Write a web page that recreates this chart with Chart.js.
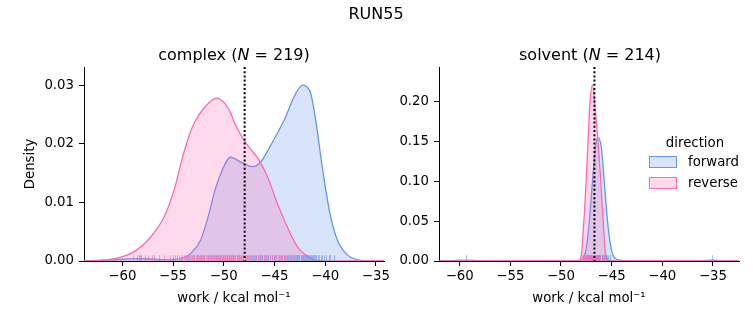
<!DOCTYPE html>
<html>
<head>
<meta charset="utf-8">
<script src="https://cdn.jsdelivr.net/npm/chart.js@4.4.0/dist/chart.umd.min.js"></script>
<style>
  body { margin: 0; background: #fff; font-family: "DejaVu Sans", sans-serif; }
  #fig { position: relative; width: 753px; height: 325px; overflow: hidden; background: #fff; }
  canvas { position: absolute; top: 0; }
  .txt { position: absolute; white-space: nowrap; color: #000; transform: translate(-50%, -50%); }
  .lbl { position: absolute; white-space: nowrap; color: #000; transform: translateY(-50%); font-size: 13.3px; }
  .patch { position: absolute; width: 26px; height: 10px; }
</style>
</head>
<body>
<div id="fig">
  <canvas id="complexChart" width="395" height="325" style="left:0px"></canvas>
  <canvas id="solventChart" width="358" height="325" style="left:395px"></canvas>

  <div class="txt" style="left:376px; top:13px; font-size:16px;">RUN55</div>
  <div class="txt" style="left:234px; top:54px; font-size:16px;">complex (<i>N</i> = 219)</div>
  <div class="txt" style="left:590px; top:54px; font-size:16px;">solvent (<i>N</i> = 214)</div>

  <!-- legend -->
  <div class="txt" style="left:695px; top:142px; font-size:13.3px;">direction</div>
  <div class="patch" style="left:649px; top:156px; background:rgba(100,149,237,0.25); border:1px solid #6495ED;"></div>
  <div class="lbl" style="left:688px; top:161px;">forward</div>
  <div class="patch" style="left:649px; top:177px; background:rgba(255,105,180,0.25); border:1px solid #FF69B4;"></div>
  <div class="lbl" style="left:688px; top:182px;">reverse</div>
</div>

<script>
// colours
var fwdLine = '#6495ED', fwdFill = 'rgba(100,149,237,0.25)', fwdRug = 'rgba(100,149,237,0.6)';
var revLine = '#FF69B4', revFill = 'rgba(255,105,180,0.25)', revRug = 'rgba(255,105,180,0.6)';

// complex leg, density curves
var complexFwdX = [-63.8, -62, -60, -58.5, -57, -55.5, -54.2, -53.25, -52.27, -51.45, -50.96, -50.3, -49.31, -48.98, -48.0, -47.18, -46.35, -45.36, -44.05, -43.07, -42.6, -42.18, -41.8, -41.42, -40.93, -40.43, -39.94, -39.45, -38.8, -37.8, -36.8, -35.5, -34.2];
var complexFwdY = [0, 0.0001, 0.0003, 0.0004, 0.0003, 0.0002, 0.0004, 0.0013, 0.0036, 0.0081, 0.0115, 0.0149, 0.0177, 0.0175, 0.0166, 0.0161, 0.0169, 0.0198, 0.0240, 0.0280, 0.0294, 0.0300, 0.0297, 0.0286, 0.0240, 0.0178, 0.0121, 0.0075, 0.0036, 0.0010, 0.0002, 0, 0];
var complexRevX = [-63.8, -62.5, -60.5, -58.85, -57.2, -55.89, -54.9, -53.92, -52.93, -51.8, -50.69, -49.9, -49.31, -48.98, -48.0, -46.52, -45.7, -44.71, -43.73, -42.74, -41.91, -41.1, -40, -37, -34.2];
var complexRevY = [0, 0.0001, 0.0005, 0.0016, 0.0041, 0.0075, 0.0121, 0.0186, 0.0235, 0.0264, 0.0278, 0.0269, 0.0252, 0.0237, 0.0206, 0.0172, 0.0144, 0.0098, 0.0058, 0.0024, 0.0010, 0.0002, 0, 0, 0];

// solvent leg
var solventFwdX = [-62, -61, -59.4, -58, -56, -50, -48.3, -47.66, -47.33, -47.1, -46.84, -46.6, -46.35, -46.01, -45.78, -45.52, -45.26, -44.87, -44.2, -43.5, -37, -36.2, -35.05, -34, -32.4];
var solventFwdY = [0, 0.0003, 0.0012, 0.0003, 0, 0, 0.0005, 0.0075, 0.033, 0.066, 0.108, 0.142, 0.155, 0.142, 0.108, 0.066, 0.033, 0.0075, 0.001, 0, 0, 0.0003, 0.0012, 0.0003, 0];
var solventRevX = [-62, -49, -48.3, -47.99, -47.83, -47.66, -47.49, -47.33, -47.17, -46.9, -46.57, -46.35, -46.11, -45.91, -45.75, -45.59, -45.3, -44.5, -32.4];
var solventRevY = [0, 0, 0.0005, 0.0075, 0.033, 0.066, 0.108, 0.150, 0.192, 0.221, 0.183, 0.150, 0.108, 0.066, 0.033, 0.0075, 0.0008, 0, 0];

// individual work values (rug)
var complexRugFwd = [-58.6, -58.4, -58.2, -57.8, -56.9, -55.0, -53.5, -52.9, -52.6, -52.2, -51.9, -51.6, -51.3, -51.0, -50.8, -50.6, -50.4, -50.1, -49.9, -49.7, -49.5, -49.3, -49.1, -48.9, -48.7, -48.5, -48.3, -48.1, -47.9, -47.7, -47.5, -47.2, -47.0, -46.8, -46.6, -46.4, -46.2, -46.0, -45.8, -45.6, -45.4, -45.2, -45.0, -44.8, -44.6, -44.4, -44.3, -44.1, -44.0, -43.8, -43.7, -43.5, -43.4, -43.2, -43.1, -42.9, -42.8, -42.7, -42.6, -42.4, -42.3, -42.2, -42.1, -42.0, -41.9, -41.8, -41.7, -41.6, -41.5, -41.4, -41.3, -41.2, -41.1, -41.0, -40.9, -40.7, -40.6, -40.4, -40.3, -40.1, -39.9, -39.6, -39.5, -39.1];
var complexRugRev = [-58.9, -58.3, -57.5, -57.1, -56.4, -55.9, -55.3, -54.8, -54.6, -54.4, -54.2, -54.1, -53.9, -53.8, -53.7, -53.6, -53.4, -53.3, -53.2, -53.1, -53.0, -52.9, -52.7, -52.6, -52.5, -52.4, -52.3, -52.2, -52.1, -52.0, -51.9, -51.8, -51.7, -51.6, -51.5, -51.4, -51.3, -51.2, -51.1, -51.0, -50.9, -50.8, -50.7, -50.6, -50.5, -50.4, -50.3, -50.2, -50.1, -50.0, -49.9, -49.8, -49.7, -49.6, -49.5, -49.4, -49.3, -49.2, -49.1, -49.0, -48.9, -48.7, -48.6, -48.5, -48.4, -48.2, -48.1, -47.9, -47.8, -47.6, -47.4, -47.3, -47.1, -46.9, -46.8, -46.6, -46.5, -46.3, -46.2, -46.0, -45.9, -45.7, -45.6, -45.4, -45.2, -45.0, -44.9, -44.7, -44.5, -44.3, -44.1, -43.9, -43.6, -43.3, -43.0, -42.6, -42.2];
var solventRugFwd = [-59.4, -47.6, -47.4, -47.3, -47.2, -47.1, -47.0, -46.9, -46.85, -46.8, -46.75, -46.7, -46.65, -46.6, -46.55, -46.5, -46.45, -46.4, -46.35, -46.3, -46.25, -46.2, -46.15, -46.1, -46.0, -45.95, -45.9, -45.8, -45.7, -45.6, -45.5, -45.4, -45.2, -35.05];
var solventRugRev = [-47.95, -47.85, -47.8, -47.75, -47.7, -47.65, -47.6, -47.55, -47.5, -47.45, -47.4, -47.35, -47.3, -47.25, -47.2, -47.15, -47.1, -47.05, -47.0, -46.95, -46.9, -46.85, -46.8, -46.75, -46.7, -46.65, -46.6, -46.55, -46.5, -46.45, -46.4, -46.35, -46.3, -46.25, -46.2, -46.1, -46.0, -45.9, -45.8];

// dotted marker positions
var complexMarker = -47.94;
var solventMarker = -46.7;

// ticks
var xTicks = [-60, -55, -50, -45, -40, -35];
var complexYTicks = [0, 0.01, 0.02, 0.03];
var solventYTicks = [0, 0.05, 0.10, 0.15, 0.20];

Chart.defaults.font.family = '"DejaVu Sans", sans-serif';
Chart.defaults.font.size = 13.3;
Chart.defaults.color = '#000';

function zip(xs, ys) {
  return xs.map(function (x, i) { return { x: x, y: ys[i] }; });
}

// rug ticks and the dotted vertical line
var rugMarker = {
  id: 'rugMarker',
  afterDatasetsDraw: function (chart, args, opts) {
    var ctx = chart.ctx, area = chart.chartArea;
    var xs = chart.scales.x;
    var h = (area.bottom - area.top) * 0.03;
    ctx.save();
    ctx.lineWidth = 1;
    opts.rugs.forEach(function (r) {
      ctx.strokeStyle = r.color;
      r.values.forEach(function (v) {
        var px = Math.round(xs.getPixelForValue(v)) + 0.5;
        ctx.beginPath();
        ctx.moveTo(px, area.bottom);
        ctx.lineTo(px, area.bottom - h);
        ctx.stroke();
      });
    });
    var mx = xs.getPixelForValue(opts.marker);
    ctx.strokeStyle = '#000';
    ctx.lineWidth = 2;
    ctx.setLineDash([2, 2.2]);
    ctx.beginPath();
    ctx.moveTo(mx, area.top);
    ctx.lineTo(mx, area.bottom);
    ctx.stroke();
    ctx.restore();
  }
};

function curve(label, pts, line, fill) {
  return {
    label: label,
    data: pts,
    borderColor: line,
    backgroundColor: fill,
    borderWidth: 1.3,
    pointRadius: 0,
    fill: 'origin',
    cubicInterpolationMode: 'monotone'
  };
}

function makeChart(id, s) {
  var ctx = document.getElementById(id).getContext('2d');
  return new Chart(ctx, {
    type: 'line',
    data: {
      datasets: [
        curve('reverse', zip(s.revX, s.revY), revLine, revFill),
        curve('forward', zip(s.fwdX, s.fwdY), fwdLine, fwdFill)
      ]
    },
    options: {
      responsive: false,
      animation: false,
      devicePixelRatio: 1,
      layout: { padding: { top: 67, right: s.padRight, left: 0, bottom: 0 } },
      plugins: {
        legend: { display: false },
        tooltip: { enabled: false },
        rugMarker: {
          marker: s.marker,
          rugs: [{ values: s.rugFwd, color: fwdRug }, { values: s.rugRev, color: revRug }]
        }
      },
      scales: {
        x: {
          type: 'linear',
          min: s.xMin,
          max: s.xMax,
          afterBuildTicks: function (sc) { sc.ticks = xTicks.map(function (v) { return { value: v }; }); },
          afterFit: function (sc) { sc.height = 64; },
          ticks: {
            padding: 3,
            maxRotation: 0,
            callback: function (v) { return v < 0 ? '\u2212' + (-v) : '' + v; }
          },
          grid: { drawOnChartArea: false, drawTicks: true, tickLength: 5, color: '#000' },
          border: { display: true, color: '#000', width: 1 },
          title: { display: true, text: 'work / kcal mol\u207B\u00B9', padding: { top: 0, bottom: 18 } }
        },
        y: {
          type: 'linear',
          min: 0,
          max: s.yMax,
          afterBuildTicks: function (sc) { sc.ticks = s.yTicks.map(function (v) { return { value: v }; }); },
          afterFit: function (sc) { sc.width = s.yWidth; },
          ticks: {
            padding: 5,
            callback: function (v) { return v.toFixed(2); }
          },
          grid: { drawOnChartArea: false, drawTicks: true, tickLength: 5, color: '#000' },
          border: { display: true, color: '#000', width: 1 },
          title: { display: s.yTitle, text: 'Density', padding: { top: 23, bottom: 0 } }
        }
      }
    },
    plugins: [rugMarker]
  });
}

makeChart('complexChart', {
  fwdX: complexFwdX, fwdY: complexFwdY, revX: complexRevX, revY: complexRevY,
  rugFwd: complexRugFwd, rugRev: complexRugRev, marker: complexMarker,
  xMin: -63.78, xMax: -34.2, yMax: 0.0331, yTicks: complexYTicks,
  yWidth: 84, padRight: 11, yTitle: true
});

makeChart('solventChart', {
  fwdX: solventFwdX, fwdY: solventFwdY, revX: solventRevX, revY: solventRevY,
  rugFwd: solventRugFwd, rugRev: solventRugRev, marker: solventMarker,
  xMin: -62.04, xMax: -32.43, yMax: 0.2433, yTicks: solventYTicks,
  yWidth: 44, padRight: 14, yTitle: false
});
</script>
</body>
</html>
